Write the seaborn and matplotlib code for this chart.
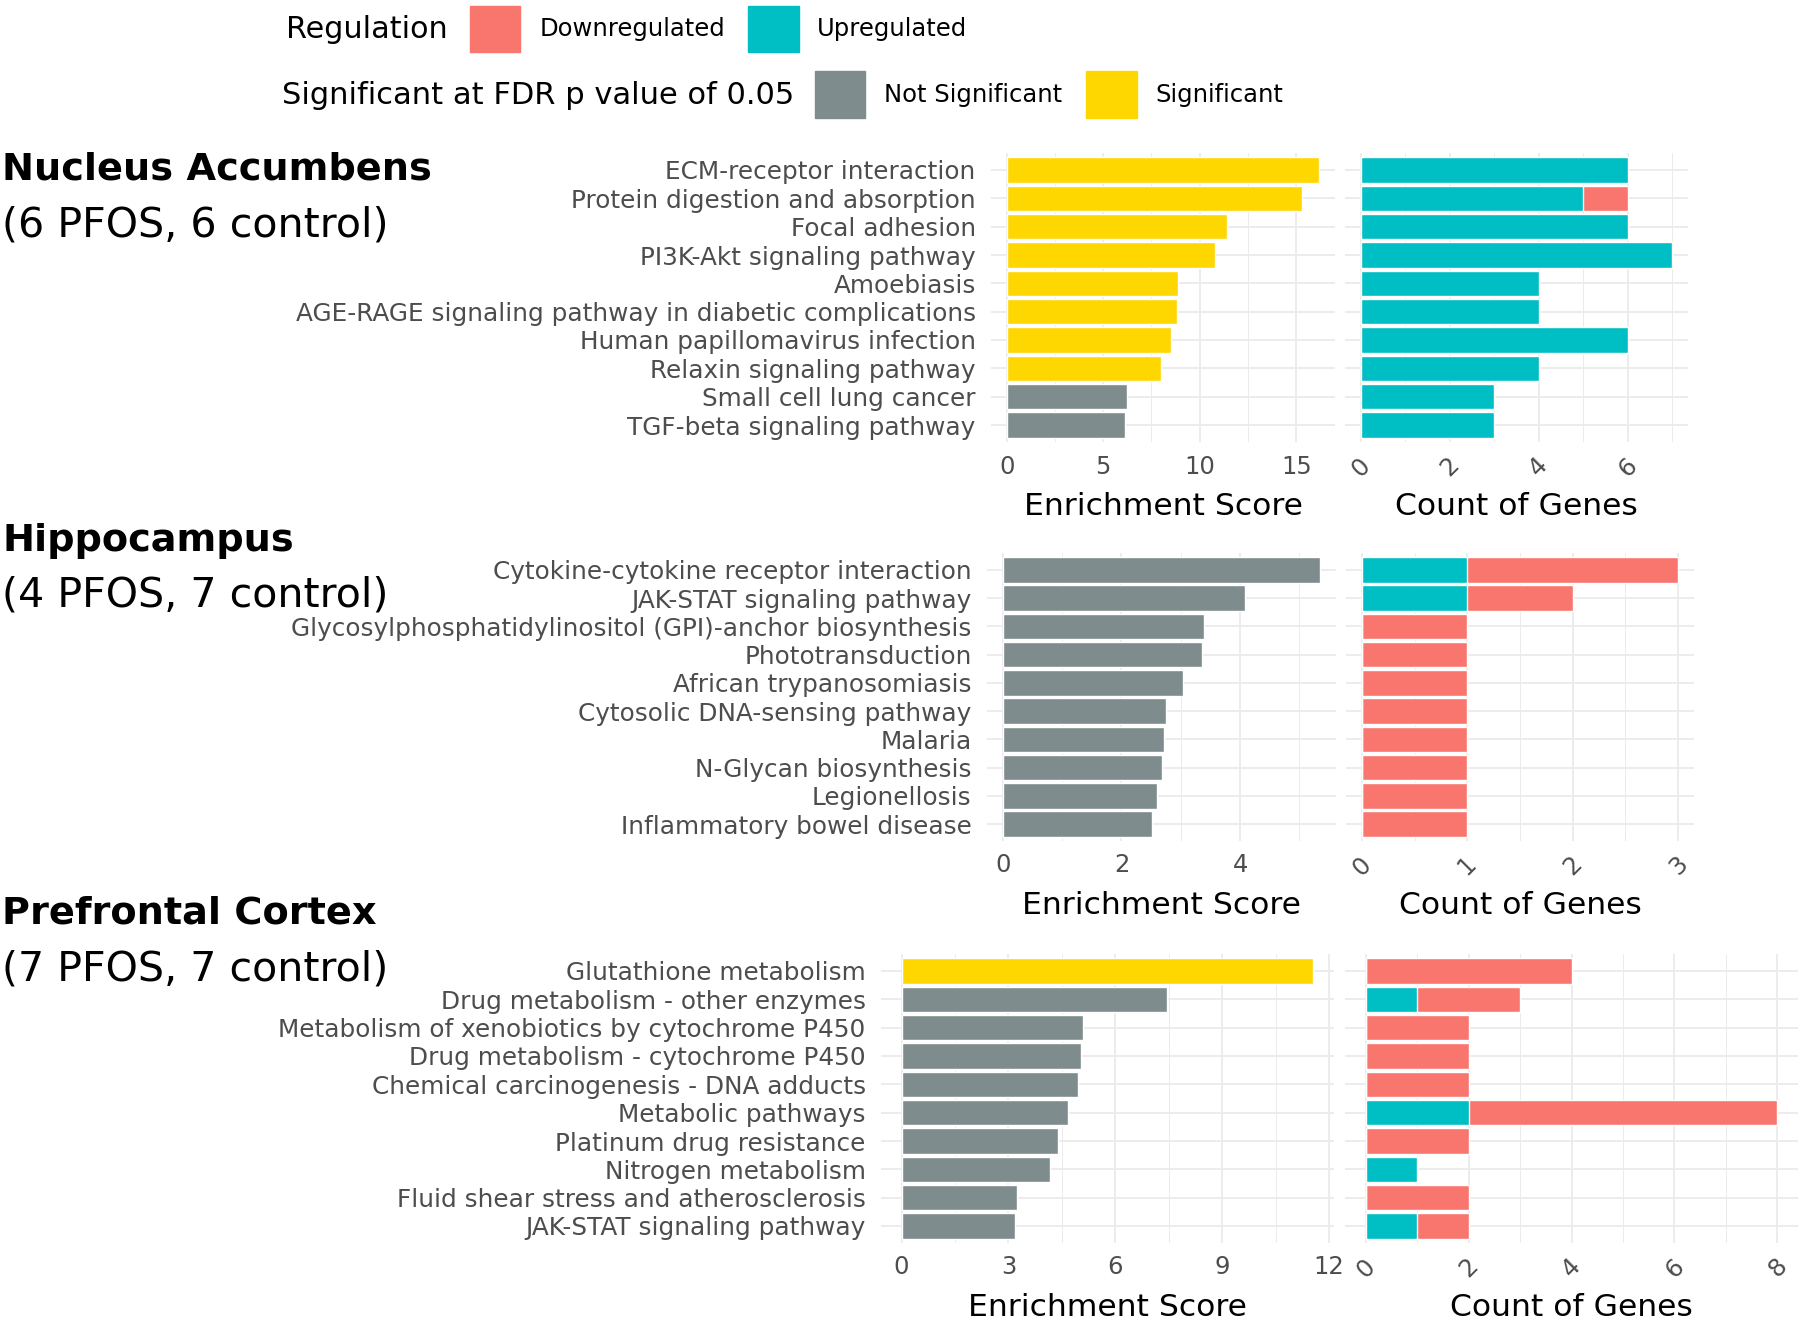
import matplotlib
matplotlib.use("Agg")
import matplotlib.pyplot as plt
from matplotlib.patches import Rectangle
import numpy as np
import pandas as pd
import seaborn as sns

sns.set_theme(style="white")
plt.rcParams['font.family'] = ['DejaVu Sans']
plt.rcParams['text.color'] = 'black'

# ---- data ----
na_pathways = ["ECM-receptor interaction", "Protein digestion and absorption",
               "Focal adhesion", "PI3K-Akt signaling pathway", "Amoebiasis",
               "AGE-RAGE signaling pathway in diabetic complications",
               "Human papillomavirus infection", "Relaxin signaling pathway",
               "Small cell lung cancer", "TGF-beta signaling pathway"]
na_score = [16.2, 15.3, 11.4, 10.8, 8.9, 8.85, 8.5, 8.0, 6.25, 6.15]
na_sig = ["Significant"] * 8 + ["Not Significant"] * 2
na_up = [6, 5, 6, 7, 4, 4, 6, 4, 3, 3]
na_down = [0, 1, 0, 0, 0, 0, 0, 0, 0, 0]

hc_pathways = ["Cytokine-cytokine receptor interaction", "JAK-STAT signaling pathway",
               "Glycosylphosphatidylinositol (GPI)-anchor biosynthesis",
               "Phototransduction", "African trypanosomiasis",
               "Cytosolic DNA-sensing pathway", "Malaria", "N-Glycan biosynthesis",
               "Legionellosis", "Inflammatory bowel disease"]
hc_score = [5.35, 4.08, 3.40, 3.36, 3.03, 2.75, 2.72, 2.69, 2.60, 2.51]
hc_sig = ["Not Significant"] * 10
hc_up = [1, 1, 0, 0, 0, 0, 0, 0, 0, 0]
hc_down = [2, 1, 1, 1, 1, 1, 1, 1, 1, 1]

pfc_pathways = ["Glutathione metabolism", "Drug metabolism - other enzymes",
                "Metabolism of xenobiotics by cytochrome P450",
                "Drug metabolism - cytochrome P450",
                "Chemical carcinogenesis - DNA adducts", "Metabolic pathways",
                "Platinum drug resistance", "Nitrogen metabolism",
                "Fluid shear stress and atherosclerosis", "JAK-STAT signaling pathway"]
pfc_score = [11.56, 7.45, 5.08, 5.03, 4.95, 4.67, 4.39, 4.16, 3.25, 3.18]
pfc_sig = ["Significant"] + ["Not Significant"] * 9
pfc_up = [0, 1, 0, 0, 0, 2, 0, 1, 0, 1]
pfc_down = [4, 2, 2, 2, 2, 6, 2, 0, 2, 1]

regions = ["Nucleus Accumbens", "Hippocampus", "Prefrontal Cortex"]
samples = ["(6 PFOS, 6 control)", "(4 PFOS, 7 control)", "(7 PFOS, 7 control)"]
score_ticks = [[0, 5, 10, 15], [0, 2, 4], [0, 3, 6, 9, 12]]
count_ticks = [[0, 2, 4, 6], [0, 1, 2, 3], [0, 2, 4, 6, 8]]

sig_colors = {"Significant": "#FFD700", "Not Significant": "#7F8C8D"}
up_color = "#00BFC4"
down_color = "#F8766D"
grid_col = "#EBEBEB"
text_grey = "#4D4D4D"

W, H = 1800, 1319
fig = plt.figure(figsize=(W / 100, H / 100), dpi=100)


def box(x0, y0, x1, y1):
    return [x0 / W, 1 - y1 / H, (x1 - x0) / W, (y1 - y0) / H]


# pixel layout: (enrich x0, enrich x1, count x0, count x1, y0, y1, title y, subtitle y)
layout = [
    (991, 1335, 1345, 1688, 153, 442, 169, 226),
    (987, 1336, 1346, 1694, 553, 841, 541, 595),
    (881, 1334, 1345, 1798, 954, 1243, 914, 969),
]

rows = [
    (na_pathways, na_score, na_sig, na_up, na_down),
    (hc_pathways, hc_score, hc_sig, hc_up, hc_down),
    (pfc_pathways, pfc_score, pfc_sig, pfc_up, pfc_down),
]


def style_axis(ax, ticks, n, lim_max):
    ax.set_xlim(-0.05 * lim_max, 1.05 * lim_max)
    ax.set_ylim(n - 1 + 0.6, -0.6)
    ax.set_xticks(ticks)
    minor = [t + (ticks[1] - ticks[0]) / 2 for t in ticks]
    minor = [m for m in minor if m <= 1.05 * lim_max]
    ax.set_xticks(minor, minor=True)
    ax.grid(which="major", color=grid_col, lw=1.3)
    ax.grid(which="minor", axis="x", color=grid_col, lw=0.7)
    ax.set_axisbelow(True)
    for s in ax.spines.values():
        s.set_visible(False)
    ax.tick_params(length=0, which="both")
    ax.set_ylabel("")


for i, (paths, score, sig, up, down) in enumerate(rows):
    ex0, ex1, cx0, cx1, y0, y1, ty, sy = layout[i]
    n = len(paths)
    df = pd.DataFrame({"Pathway": paths, "Score": score, "Sig": sig,
                       "Up": up, "Down": down})
    df["Total"] = df["Up"] + df["Down"]
    label_y = -50 / (y1 - y0)

    # enrichment panel
    ax = fig.add_axes(box(ex0, y0, ex1, y1))
    sns.barplot(data=df, x="Score", y="Pathway", hue="Sig", palette=sig_colors,
                dodge=False, width=0.9, legend=False, ax=ax, saturation=1,
                order=paths)
    style_axis(ax, score_ticks[i], n, max(score))
    ax.tick_params(axis="y", labelsize=17.8, labelcolor=text_grey, pad=11)
    ax.tick_params(axis="x", labelsize=17.5, labelcolor=text_grey, pad=9)
    ax.set_xlabel("Enrichment Score", fontsize=22.6, color="black")
    ax.xaxis.set_label_coords(0.5, label_y)

    # gene count panel (stacked: total in red, upregulated part in teal)
    ax2 = fig.add_axes(box(cx0, y0, cx1, y1))
    sns.barplot(data=df, x="Total", y="Pathway", color=down_color, width=0.9,
                saturation=1, ax=ax2, order=paths)
    sns.barplot(data=df, x="Up", y="Pathway", color=up_color, width=0.9,
                saturation=1, ax=ax2, order=paths)
    style_axis(ax2, count_ticks[i], n, df["Total"].max())
    ax2.set_yticklabels([])
    ax2.tick_params(axis="x", labelsize=17.5, labelcolor=text_grey, pad=8)
    for lab in ax2.get_xticklabels():
        lab.set_rotation(45)
        lab.set_ha("center")
    ax2.set_xlabel("Count of Genes", fontsize=22.6, color="black")
    ax2.xaxis.set_label_coords(0.5, label_y)

    # region titles
    fig.text(2 / W, 1 - ty / H, regions[i], fontsize=27.5, fontweight="bold",
             ha="left", va="center", color="black")
    fig.text(2 / W, 1 - sy / H, samples[i], fontsize=29.6, ha="left", va="center",
             color="black")

# ---- legend ----
def swatch(x0, y0, x1, y1, color):
    fig.patches.append(Rectangle((x0 / W, 1 - y1 / H), (x1 - x0) / W, (y1 - y0) / H,
                                 transform=fig.transFigure, color=color))


fig.text(286 / W, 1 - 29 / H, "Regulation", fontsize=21.8, va="center")
swatch(470, 6, 520, 52, down_color)
fig.text(540 / W, 1 - 29 / H, "Downregulated", fontsize=17.5, va="center")
swatch(748, 6, 799, 52, up_color)
fig.text(817 / W, 1 - 29 / H, "Upregulated", fontsize=17.5, va="center")

fig.text(282 / W, 1 - 95 / H, "Significant at FDR p value of 0.05", fontsize=22,
         va="center")
swatch(815, 71, 865, 118, sig_colors["Not Significant"])
fig.text(884 / W, 1 - 95 / H, "Not Significant", fontsize=17.5, va="center")
swatch(1086, 71, 1137, 118, sig_colors["Significant"])
fig.text(1155 / W, 1 - 95 / H, "Significant", fontsize=17.5, va="center")

fig.savefig("out.png", dpi=100, facecolor="white")
